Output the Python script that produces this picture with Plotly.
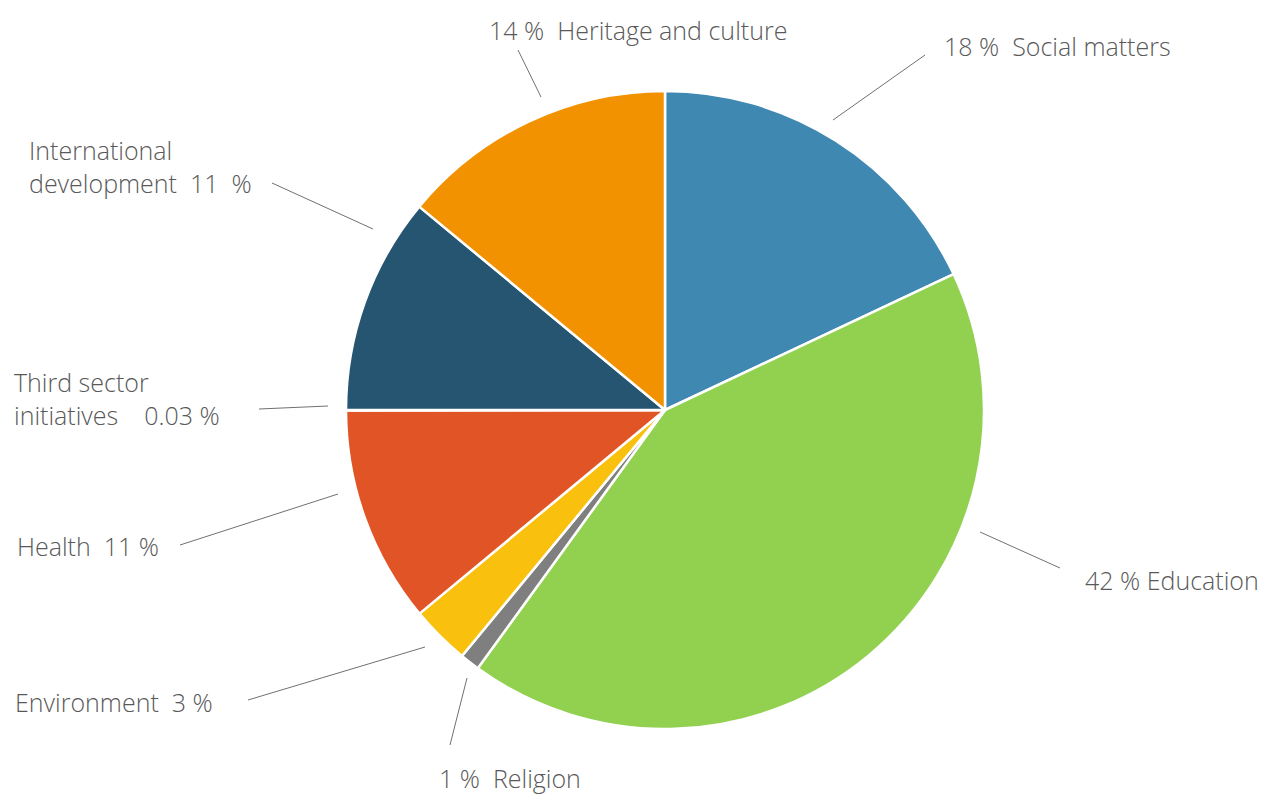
import plotly.graph_objects as go

W, H = 1269, 797
OFF = 8  # page body margin offset

# ---- data ----
categories = ["Social matters", "Education", "Religion", "Environment", "Health",
              "Third sector initiatives", "International development", "Heritage and culture"]
shares = [18, 42, 1, 3, 11, 0.03, 11, 14]
colors = ["#3f88b2", "#92d050", "#7f7f7f", "#f9c00e", "#e05426",
          "#6b6b6b", "#265571", "#f39200"]
label_texts = ["18 %  Social matters", "42 % Education", "1 %  Religion", "Environment  3 %",
               "Health  11 %", "Third sector<br>initiatives    0.03 %",
               "International<br>development  11  %", "14 %  Heritage and culture"]

# ---- layout (pixel positions of labels and leader lines) ----
label_pos = [(942, 46), (1083, 580), (437, 778), (13, 702),
             (15, 546), (12, 398), (27, 166), (487, 30)]
leader = [((833, 120), (925, 55)), ((980, 532), (1060, 568)), ((467, 678), (450, 745)),
          ((425, 647), (248, 700)), ((338, 494), (180, 545)), ((328, 406), (259, 409)),
          ((373, 229), (272, 183)), ((541, 97), (518, 50))]

cx, cy, r = 665, 410, 319


def px(x):
    return (x - OFF) / W


def py(y):
    return 1 - (y - OFF) / H


fig = go.Figure(go.Pie(
    labels=categories, values=shares, sort=False, direction="clockwise", rotation=0,
    marker=dict(colors=colors, line=dict(color="white", width=2.5)),
    textinfo="none", hoverinfo="label+percent", showlegend=False,
    domain=dict(x=[px(cx - r), px(cx + r)], y=[py(cy + r), py(cy - r)]),
))

font = dict(family="Open Sans, Lato, sans-serif", size=25, color="#595959", weight=300)
for txt, (x, y) in zip(label_texts, label_pos):
    fig.add_annotation(x=px(x), y=py(y), xref="paper", yref="paper", text=txt,
                       showarrow=False, xanchor="left", yanchor="middle", align="left",
                       font=font)
for (x0, y0), (x1, y1) in leader:
    fig.add_shape(type="line", xref="paper", yref="paper",
                  x0=px(x0), y0=py(y0), x1=px(x1), y1=py(y1),
                  line=dict(color="#707070", width=1))

fig.update_layout(width=W, height=H, margin=dict(l=0, r=0, t=0, b=0),
                  paper_bgcolor="white", plot_bgcolor="white")
fig.write_html("out.html")
